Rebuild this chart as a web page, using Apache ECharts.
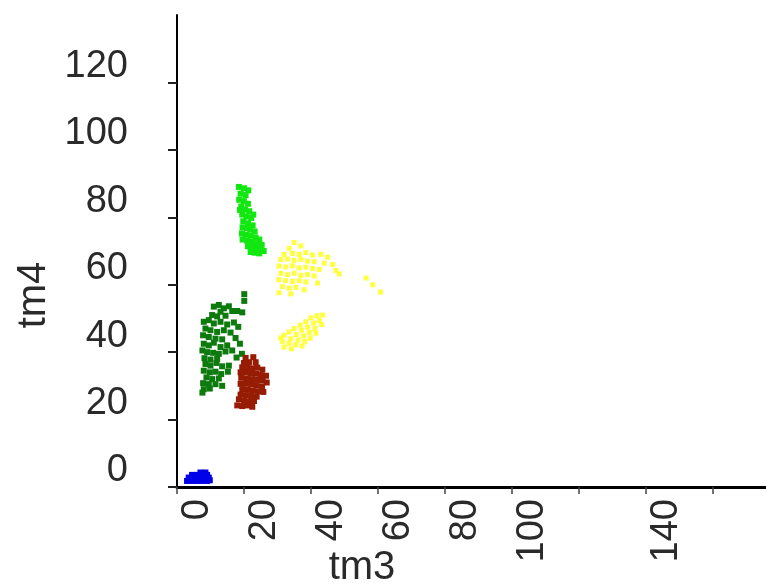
<!DOCTYPE html>
<html>
<head>
<meta charset="utf-8">
<script src="https://cdn.jsdelivr.net/npm/echarts@6/dist/echarts.min.js"></script>
<style>
html,body{margin:0;padding:0;background:#fff;}
#chart{width:766px;height:585px;}
</style>
</head>
<body>
<div id="chart"></div>
<script>
var xTickValues = [0, 20, 40, 60, 80, 100, 120, 140, 160];
var xLabelValues = [0, 20, 40, 60, 80, 100, 140];
var yTickValues = [0, 20, 40, 60, 80, 100, 120];
var yLabelValues = [0, 20, 40, 60, 80, 100, 120];
var xName = 'tm3';
var yName = 'tm4';

var lightGreen = [
  [18.5,89],[20,88.6],[21.3,88],[19,87],[20.5,86.6],[18.6,85.2],[20,84.8],[21.2,84],
  [19.2,83.2],[20.4,82.3],[21.6,81.8],[19.5,80.8],[20.8,80.2],[22.2,79.8],[19.8,78.8],
  [21.2,78.2],[22.6,77.6],[19.6,77],[20.8,76.8],[21.9,76.4],[23.2,75.8],[19.4,75.2],
  [20.6,74.8],[22,74.6],[23.5,74],[24.6,73.4],[19.6,73.4],[21,73],[22.6,72.8],[24,72.2],
  [25.3,71.8],[21.2,71.4],[22.4,71.2],[23.6,70.8],[24.9,70.4],[25.9,70],[22,69.7],
  [23.2,69.5],[24.6,69.3],[22.8,80.8],[18.8,82.2]
];
var darkGreen = [
  [11,53.5],[12.5,54],[14,53],[15.5,53.6],[13,52],[16.5,52.2],[18,52.2],[19.5,51.8],
  [10.5,51],[12,50.6],[14.5,50.8],[8,49],[9.5,49.5],[11,48.5],[13,49],[15,48.2],
  [17,48.8],[18.3,47.5],[8.5,47],[10,46.5],[12,46],[14,46.5],[16,45.8],[7.8,45],
  [9.5,44.5],[11.5,44],[13.5,43.8],[17.5,44.2],[8,42.5],[9.5,42],[11,42.8],[13,41.5],
  [15,42],[18.8,42.5],[7.6,40.5],[9,40],[10.8,39.8],[12.5,39.5],[14.5,40.2],[16.5,40.5],
  [19.4,39.5],[8.2,38.2],[10,37.8],[12,38],[17.8,38.4],[8.5,36.5],[10,36],[11.8,36.8],
  [13.5,35.8],[15.5,36],[8,34.5],[9.8,34],[11.5,34.2],[13.2,33.5],[15.2,34.2],[8.8,32.5],
  [10.5,32],[12.5,32.2],[7.8,30.8],[9.5,30.5],[11.5,30.5],[13.5,30],[8,29],[9.8,29.2],
  [7.6,28],[20.1,55.2],[20.1,57.2]
];
var brown = [
  [20.5,38.3],[22.8,38.5],[20,36.8],[21.5,37],[23.5,37],[19.5,35.5],[21,35.6],[22.5,35.2],
  [24,35.4],[25.5,34.8],[19,34],[20.6,34],[22,33.8],[23.6,33.6],[25,33.2],[26.6,33],
  [19.2,32.4],[20.8,32.2],[22.4,32],[24,31.8],[25.6,31.6],[26.8,31],[19,30.6],[20.6,30.6],
  [22.2,30.4],[23.8,30.2],[25.4,29.8],[19.5,29],[21,28.8],[22.6,28.6],[24.2,28.4],
  [25.8,28.2],[19,27.4],[20.6,27.2],[22.2,27],[23.8,26.8],[18.5,26],[20,25.6],[21.6,25.4],
  [23,25.5],[18,24.2],[19.5,24],[21,24.2],[22.5,23.8]
];
var yellow = [
  [35,72.5],[37,71.5],[33.5,70.8],[32,69],[34.5,69.3],[36.5,69],[38.5,69.5],[40.5,68.8],
  [43,69],[45,68.2],[31,67.5],[33,67.6],[35,67.2],[37,67.5],[39,67],[41,66.8],[44,66.4],
  [46.5,66],[30.5,65.5],[32.5,65.3],[34.5,65.6],[36.5,65],[38.5,65.2],[40.5,64.8],
  [42.5,64.5],[47.5,64.2],[31,63.4],[33,63],[35,63.4],[37,62.8],[39,63],[41,62.6],
  [30.4,61.5],[32.4,61.2],[34.5,61],[36.5,61.2],[38.5,60.8],[31.5,59.4],[33.5,59],
  [35.5,59.2],[38,58.5],[30.5,57.6],[34,57.3],[42,60.5],[48.5,63.2],
  [56.5,62],[60.8,57.8],[58.5,60],
  [43.5,51],[41.8,50.8],[40,50.2],[42.5,49.4],[38.5,49],[40.8,48.6],[43.2,48.2],[36.8,48],
  [39,47.4],[41.2,47],[35,47],[37.2,46.5],[39.5,45.8],[41.5,45.6],[33.5,46],[35.6,45.2],
  [37.8,44.8],[39.8,44.2],[32,45],[34,44],[36.2,43.6],[38.2,43.2],[31.5,43.2],[33.5,42.6],
  [35.5,42.2],[37.4,41.8],[32,41.5],[34.2,41],[31,44.2]
];
var blue = [
  [3,1.8],[4.5,1.8],[6,1.8],[7.5,1.8],[9,1.8],[9.8,2],[3.5,2.8],[5,2.8],[6.5,2.8],
  [8,2.8],[9.5,2.8],[4.5,3.6],[6,3.6],[7.5,3.8],[9,3.6],[7,4.3],[8.5,4.3]
];

var font = '"Liberation Sans", Arial, sans-serif';
function sc(data, color, opacity, size) {
  return {
    type: 'scatter', data: data, symbol: 'rect', symbolSize: size,
    itemStyle: { color: color, opacity: opacity },
    silent: true
  };
}

var chart = echarts.init(document.getElementById('chart'), null, { renderer: 'canvas' });
chart.setOption({
  animation: false,
  backgroundColor: '#ffffff',
  grid: { left: 177, right: 0, top: 15, bottom: 98, containLabel: false },
  xAxis: {
    type: 'value', min: 0, max: 176, interval: 20,
    splitLine: { show: false },
    axisLine: { show: true, onZero: false, lineStyle: { color: '#000', width: 3 } },
    axisTick: { show: true, length: 7, customValues: xTickValues, lineStyle: { color: '#444', width: 1.5 } },
    axisLabel: {
      customValues: xLabelValues, rotate: 90, margin: 12,
      fontFamily: font, fontSize: 38, color: '#2a2a2a',
      verticalAlign: 'top', lineHeight: 42
    }
  },
  yAxis: {
    type: 'value', min: 0, max: 140, interval: 20,
    splitLine: { show: false },
    axisLine: { show: true, onZero: false, lineStyle: { color: '#000', width: 2 } },
    axisTick: { show: true, length: 9, customValues: yTickValues, lineStyle: { color: '#222', width: 2 } },
    axisLabel: {
      customValues: yLabelValues, margin: 49,
      fontFamily: font, fontSize: 38, color: '#2a2a2a',
      verticalAlign: 'bottom', lineHeight: 32
    }
  },
  graphic: [
    { type: 'text', x: 34, y: 295, rotation: Math.PI / 2,
      style: { text: yName, font: '40px ' + font, fill: '#2a2a2a', align: 'center', verticalAlign: 'middle' } },
    { type: 'text', x: 362, y: 568,
      style: { text: xName, font: '40px ' + font, fill: '#2a2a2a', align: 'center', verticalAlign: 'middle' } }
  ],
  series: [
    sc(yellow, '#ffff22', 0.85, 5),
    sc(lightGreen, '#11e811', 1, 6),
    sc(darkGreen, '#0d7a0d', 1, 6),
    sc(brown, '#961c04', 1, 6),
    sc(blue, '#0000e8', 1, 6)
  ]
});
</script>
</body>
</html>
